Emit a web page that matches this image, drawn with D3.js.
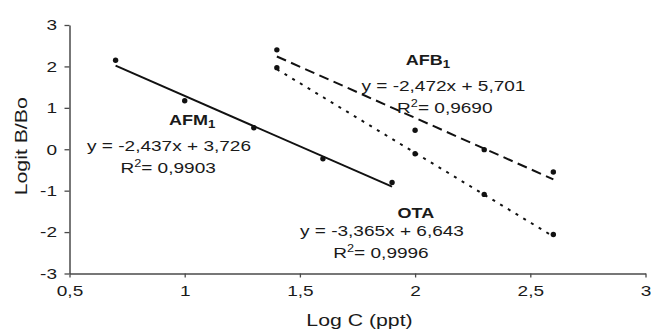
<!DOCTYPE html>
<html>
<head>
<meta charset="utf-8">
<script src="https://cdn.jsdelivr.net/npm/d3@7"></script>
<style>
  html, body { margin: 0; padding: 0; background: #fff; }
  svg { display: block; }
  text { font-family: "Liberation Sans", Arial, Helvetica, sans-serif; fill: #1a1a1a; }
</style>
</head>
<body>
<svg id="chart" width="651" height="331"></svg>
<script>
// ---- data ----
const xTicks = [0.5, 1, 1.5, 2, 2.5, 3];
const yTicks = [-3, -2, -1, 0, 1, 2, 3];

const afm1X = [0.7, 1.0, 1.3, 1.6, 1.9];
const afm1Y = [2.15, 1.17, 0.52, -0.23, -0.80];

const afb1X = [1.4, 2.0, 2.3, 2.6];
const afb1Y = [2.40, 0.46, -0.01, -0.55];

const otaX = [1.4, 2.0, 2.3, 2.6];
const otaY = [1.97, -0.11, -1.09, -2.06];

// regression coefficients shown on the chart [slope, intercept]
const afm1Fit = [-2.437, 3.726];
const afb1Fit = [-2.472, 5.701];
const otaFit = [-3.365, 6.643];

const afm1R2 = "0,9903";
const afb1R2 = "0,9690";
const otaR2 = "0,9996";

// ---- layout ----
const svg = d3.select("#chart");
const W = 651, H = 331;
const m = { left: 69.5, right: 5.5, top: 25, bottom: 57.5 };
const x = d3.scaleLinear().domain([0.5, 3]).range([m.left, W - m.right]);
const y = d3.scaleLinear().domain([-3, 3]).range([H - m.bottom, m.top]);
const SX = 1.27; // horizontal stretch of the wide typeface
const fmt = v => String(v).replace(".", ",").replace("\u2212", "-");
const axisColor = "#4a4a4a";

// axes
const gy = svg.append("g").attr("transform", `translate(${m.left},0)`)
  .call(d3.axisLeft(y).tickValues(yTicks).tickFormat(fmt).tickSize(5).tickSizeOuter(0).tickPadding(7.5));
const gx = svg.append("g").attr("transform", `translate(0,${H - m.bottom})`)
  .call(d3.axisBottom(x).tickValues(xTicks).tickFormat(fmt).tickSize(4).tickSizeOuter(0).tickPadding(8));

[gx, gy].forEach(g => {
  g.select(".domain").attr("stroke", axisColor).attr("stroke-width", 1.5);
  g.selectAll(".tick line").attr("stroke", axisColor).attr("stroke-width", 1.3);
  g.selectAll(".tick text").attr("font-size", 15).attr("fill", "#1a1a1a")
    .style("font-family", '"Liberation Sans", Arial, sans-serif');
  g.attr("font-family", null).attr("font-size", null);
});
gy.selectAll(".tick text").each(function () {
  const t = d3.select(this);
  t.attr("transform", `translate(${t.attr("x")},0) scale(${SX},1)`).attr("x", 0);
});
gx.selectAll(".tick text").each(function () {
  const t = d3.select(this);
  t.attr("transform", `translate(0,${t.attr("y")}) scale(${SX},1)`).attr("y", 0);
});

// axis titles
svg.append("text")
  .attr("text-anchor", "middle").attr("font-size", 17)
  .attr("transform", `translate(${(x(0.5) + x(3)) / 2 + 2},326) scale(1.25,1)`)
  .text("Log C (ppt)");
svg.append("text")
  .attr("text-anchor", "middle").attr("font-size", 17)
  .attr("transform", `translate(27,${(y(-3) + y(3)) / 2 - 3}) rotate(-90) scale(1.25,1)`)
  .text("Logit B/Bo");

// series
const series = [
  { xs: afm1X, ys: afm1Y, fit: afm1Fit, dash: null },
  { xs: afb1X, ys: afb1Y, fit: afb1Fit, dash: "10,5.5" },
  { xs: otaX, ys: otaY, fit: otaFit, dash: "3,6" }
];
const line = d3.line().x(d => x(d[0])).y(d => y(d[1]));
series.forEach(s => {
  const x0 = d3.min(s.xs), x1 = d3.max(s.xs);
  const pts = [x0, x1].map(v => [v, s.fit[0] * v + s.fit[1]]);
  svg.append("path").attr("d", line(pts))
    .attr("fill", "none").attr("stroke", "#111").attr("stroke-width", 2)
    .attr("stroke-dasharray", s.dash);
  svg.append("g").selectAll("circle").data(s.xs.map((v, i) => [v, s.ys[i]]))
    .join("circle")
    .attr("cx", d => x(d[0])).attr("cy", d => y(d[1])).attr("r", 2.7)
    .attr("fill", "#111");
});

// annotations (positions in data units)
const eqText = f => `y = ${fmt(f[0])}x + ${fmt(f[1])}`;
function label(name, sub, px, py) {
  const t = svg.append("text").attr("text-anchor", "middle")
    .attr("font-size", 15).attr("font-weight", "bold")
    .attr("transform", `translate(${x(px)},${y(py)}) scale(1.2,1)`);
  t.append("tspan").text(name);
  if (sub) t.append("tspan").attr("font-size", 11).attr("dy", 3).text(sub);
}
function equation(f, px, py) {
  svg.append("text").attr("text-anchor", "middle").attr("font-size", 15)
    .attr("transform", `translate(${x(px)},${y(py)}) scale(${SX},1)`)
    .text(eqText(f));
}
function r2(val, px, py) {
  const t = svg.append("text").attr("text-anchor", "middle").attr("font-size", 15)
    .attr("transform", `translate(${x(px)},${y(py)}) scale(${SX},1)`);
  t.append("tspan").text("R");
  t.append("tspan").attr("font-size", 10).attr("dy", -6).text("2");
  t.append("tspan").attr("dy", 6).text("= " + val);
}

label("AFM", "1", 1.032, 0.585);
equation(afm1Fit, 0.932, -0.042);
r2(afm1R2, 0.928, -0.573);

label("AFB", "1", 2.056, 2.034);
equation(afb1Fit, 2.123, 1.406);
r2(afb1R2, 2.129, 0.875);

label("OTA", null, 2.0035, -1.66);
equation(otaFit, 1.856, -2.085);
r2(otaR2, 1.852, -2.63);
</script>
</body>
</html>
